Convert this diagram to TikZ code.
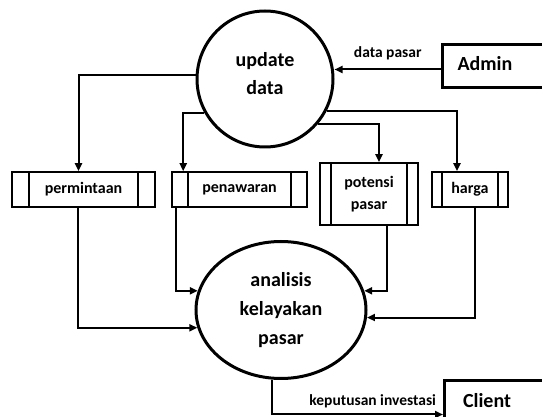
\documentclass[tikz,border=0pt]{standalone}
\usepackage{fontspec}
\setmainfont{Carlito}[BoldFont={Carlito Bold}]
\usetikzlibrary{arrows.meta,shapes.geometric}
\tikzset{
  arr/.style={line width=2pt,-{Triangle[length=8pt,width=7pt]}},
  proc/.style={circle,draw,line width=3pt,minimum size=136pt,inner sep=0pt},
  proctext/.style={align=center,font=\bfseries\fontsize{20}{28}\selectfont},
  procel/.style={ellipse,draw,line width=3pt,minimum width=170pt,minimum height=137pt,inner sep=0pt,align=center,font=\bfseries\fontsize{20}{29}\selectfont},
  store/.style={rectangle,draw,line width=1.6pt,inner sep=0pt,align=center,font=\bfseries\fontsize{16}{22}\selectfont},
  ent/.style={rectangle,draw,line width=3pt,inner sep=0pt},
  enttext/.style={font=\bfseries\fontsize{20}{24}\selectfont},
  flow/.style={font=\bfseries\fontsize{15.5}{18}\selectfont,inner sep=0pt},
}
\begin{document}
\begin{tikzpicture}[x=1pt,y=-1pt]
\path[use as bounding box,clip] (0,0) rectangle (542,417);
\fill[white] (0,0) rectangle (542,417);
% processes
\node[proc,label={[proctext,yshift=5pt]center:update\\data}] (ud) at (265,79) {};
\node[procel] (an) at (281,310) {analisis\\kelayakan\\pasar};
% entities
\node[ent,minimum width=120pt,minimum height=43pt,anchor=north west] (ad) at (441,43) {};
\node[enttext] (adt) at (485,64) {Admin};
\node[ent,minimum width=120pt,minimum height=60pt,anchor=north west] (cl) at (443,379) {};
\node[enttext] (clt) at (487,401) {Client};
% stores
\node[store,minimum width=143pt,minimum height=35pt] (pm) at (83.5,189.5) {\raisebox{-1.5pt}{permintaan}};
\node[store,minimum width=135pt,minimum height=35pt] (pn) at (239.5,189.5) {\raisebox{-1.5pt}{penawaran}};
\node[store,minimum width=98pt,minimum height=62pt] (po) at (369,194) {\raisebox{1.5pt}{potensi}\\\raisebox{1.5pt}{pasar}};
\node[store,minimum width=76pt,minimum height=35pt] (hg) at (470,189.5) {\raisebox{-1.5pt}{harga}};
\foreach \n/\d in {pm/18,pn/17,po/12,hg/11}{
  \draw[line width=1.6pt] ([xshift=\d pt]\n.north west) -- ([xshift=\d pt]\n.south west);
  \draw[line width=1.6pt] ([xshift=-\d pt]\n.north east) -- ([xshift=-\d pt]\n.south east);
}
% flows
\draw[arr] ([yshift=-3.5pt]ad.west) -- ([yshift=-3.5pt]ad.west -| ud.east) node[flow,midway,above=9pt] {data pasar};
\draw[arr] (ud.177) -| ([xshift=-5pt]pm.north);
\draw[arr] (ud.209) -| ([xshift=12pt]pn.north west);
\draw[arr] (ud.320) -| ([xshift=10pt]po.north);
\draw[arr] (ud.333) -| ([xshift=-13pt]hg.north);
\draw[arr] ([xshift=-6pt]pm.south) |- (an.192);
\draw[arr] ([xshift=5pt]pn.south west) |- (an.167);
\draw[arr] ([xshift=18pt]po.south) |- (an.13);
\draw[arr] ([xshift=5pt]hg.south) |- (an.355);
\draw[arr] (an.263) |- ([yshift=-4pt]cl.west) node[flow,pos=1,anchor=south east,xshift=-6pt,yshift=6pt] {keputusan investasi};
\end{tikzpicture}
\end{document}
